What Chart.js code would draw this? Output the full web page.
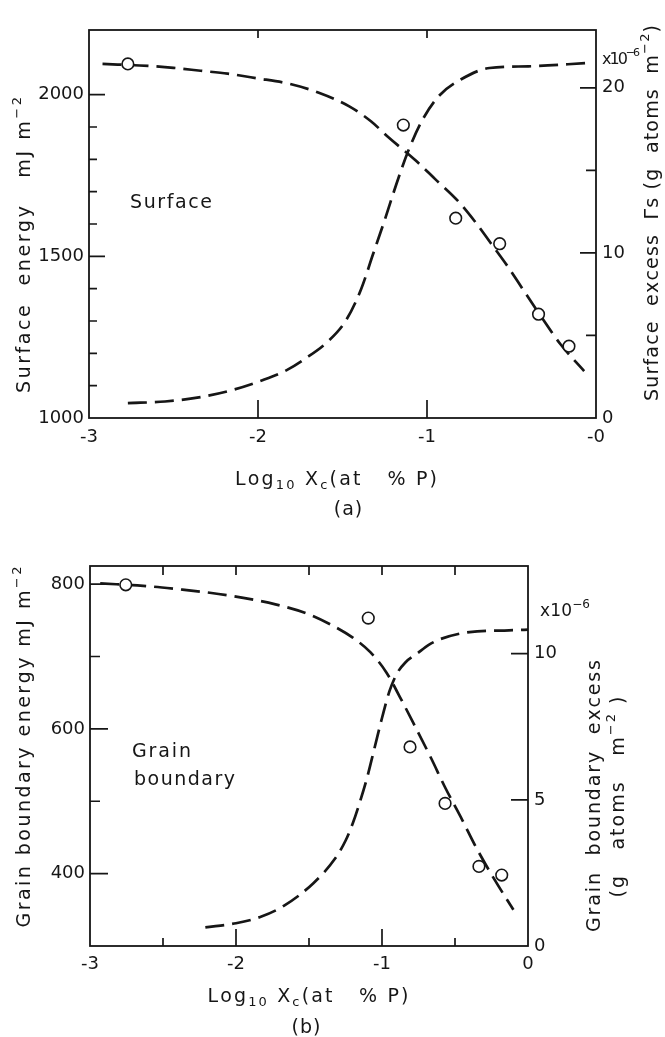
<!DOCTYPE html>
<html>
<head>
<meta charset="utf-8">
<script src="https://cdn.jsdelivr.net/npm/chart.js@4.4.1/dist/chart.umd.min.js"></script>
<style>
  html, body { margin: 0; padding: 0; background: #ffffff; }
  #wrap { position: relative; width: 665px; height: 1037px; overflow: hidden; background: #fff; }
  canvas { position: absolute; left: 0; }
  #ca { top: 0; }
  #cb { top: 520px; }
</style>
</head>
<body>
<div id="wrap">
  <canvas id="ca" width="665" height="520"></canvas>
  <canvas id="cb" width="665" height="517"></canvas>
</div>
<script>
// ---------------- DATA : panel (a) Surface ----------------
const xTicksA = [-3, -2, -1, 0];
const xTickLabelsA = ['-3', '-2', '-1', '-0'];
const energyTicksA = [1000, 1500, 2000];
const excessTicksA = [0, 10, 20];

const surfEnergyCurveX = [-2.92, -2.65, -2.50, -2.34, -2.18, -2.01, -1.81, -1.64, -1.46, -1.33, -1.23, -1.07, -0.95, -0.82, -0.72, -0.62, -0.52, -0.43, -0.32, -0.21, -0.07];
const surfEnergyCurveY = [2095, 2089, 2083, 2074, 2065, 2051, 2033, 2006, 1964, 1917, 1869, 1798, 1738, 1673, 1610, 1539, 1467, 1396, 1310, 1228, 1145];

const surfEnergyPointsX = [-2.77, -1.14, -0.83, -0.57, -0.34, -0.16];
const surfEnergyPointsY = [2095, 1906, 1618, 1539, 1321, 1222];

const surfExcessCurveX = [-2.77, -2.55, -2.35, -2.15, -1.97, -1.83, -1.72, -1.59, -1.48, -1.39, -1.32, -1.25, -1.18, -1.11, -1.03, -0.93, -0.80, -0.63, -0.40, -0.05];
const surfExcessCurveY = [0.9, 1.0, 1.25, 1.7, 2.3, 2.9, 3.6, 4.6, 5.9, 7.8, 9.9, 12.0, 14.2, 16.2, 18.0, 19.5, 20.5, 21.2, 21.3, 21.5];

// ---------------- DATA : panel (b) Grain boundary ----------------
const xTicksB = [-3, -2, -1, 0];
const xTickLabelsB = ['-3', '-2', '-1', '0'];
const energyTicksB = [400, 600, 800];
const excessTicksB = [0, 5, 10];

const gbEnergyCurveX = [-2.93, -2.60, -2.40, -2.18, -1.95, -1.73, -1.51, -1.35, -1.20, -1.08, -0.97, -0.88, -0.77, -0.66, -0.57, -0.45, -0.36, -0.23, -0.10];
const gbEnergyCurveY = [801, 797, 793, 788, 781, 772, 759, 744, 726, 706, 678, 645, 602, 558, 520, 474, 438, 392, 350];

const gbEnergyPointsX = [-2.755, -1.094, -0.808, -0.568, -0.336, -0.18];
const gbEnergyPointsY = [799, 753, 575, 497, 410, 398];

const gbExcessCurveX = [-2.21, -2.00, -1.83, -1.67, -1.47, -1.32, -1.25, -1.20, -1.15, -1.10, -1.05, -1.00, -0.95, -0.90, -0.84, -0.76, -0.68, -0.60, -0.40, -0.13, 0];
const gbExcessCurveY = [0.64, 0.78, 1.0, 1.38, 2.15, 3.0, 3.6, 4.2, 4.95, 5.8, 6.8, 7.8, 8.7, 9.3, 9.7, 10.0, 10.3, 10.5, 10.74, 10.8, 10.82];

// ---------------- STYLE ----------------
const FAM = '"DejaVu Sans", "Liberation Sans", sans-serif';
const INK = '#161616';
const TICK_FONT = { family: FAM, size: 18 };

function zip(xs, ys) { return xs.map((x, i) => ({ x: x, y: ys[i] })); }

// rich text: segments with optional sub / sup, letter spacing fitted to a target length
function drawRich(ctx, segs, o) {
  const size = o.size || 19;
  const small = Math.round(size * 0.68);
  const fontFor = s => ((s.sub || s.sup) ? small : size) + 'px ' + FAM;
  let natural = 0, n = 0;
  for (const s of segs) {
    ctx.font = fontFor(s);
    for (const ch of s.t) { natural += ctx.measureText(ch).width; n++; }
  }
  let sp = o.spacing || 0;
  if (o.target) sp = (o.target - natural) / Math.max(1, n - 1);
  const total = natural + sp * (n - 1);
  ctx.save();
  ctx.translate(o.x, o.y);
  ctx.rotate(o.rot || 0);
  ctx.fillStyle = INK;
  ctx.textBaseline = 'middle';
  ctx.textAlign = 'left';
  let cx = (o.align === 'left') ? 0 : -total / 2;
  for (const s of segs) {
    ctx.font = fontFor(s);
    const dy = s.sub ? size * 0.32 : (s.sup ? -size * 0.4 : 0);
    for (const ch of s.t) {
      ctx.fillText(ch, cx, dy);
      cx += ctx.measureText(ch).width + sp;
    }
  }
  ctx.restore();
}

function framePlugin(spec) {
  return {
    id: 'frame_' + spec.name,
    afterDraw(chart) {
      const ctx = chart.ctx, a = chart.chartArea, sc = chart.scales;
      ctx.save();
      ctx.strokeStyle = INK;
      ctx.lineWidth = 1.7;
      ctx.beginPath();
      for (const [vals, len] of spec.leftMarks) for (const v of vals) {
        const y = sc.y.getPixelForValue(v); ctx.moveTo(a.left, y); ctx.lineTo(a.left + len, y);
      }
      for (const [vals, len] of spec.rightMarks) for (const v of vals) {
        const y = sc.y2.getPixelForValue(v); ctx.moveTo(a.right, y); ctx.lineTo(a.right - len, y);
      }
      for (const [vals, len] of spec.bottomMarks) for (const v of vals) {
        const x = sc.x.getPixelForValue(v); ctx.moveTo(x, a.bottom); ctx.lineTo(x, a.bottom - len);
      }
      for (const [vals, len] of spec.topMarks) for (const v of vals) {
        const x = sc.x.getPixelForValue(v); ctx.moveTo(x, a.top); ctx.lineTo(x, a.top + len);
      }
      ctx.stroke();
      ctx.lineWidth = 1.8;
      ctx.strokeRect(a.left, a.top, a.right - a.left, a.bottom - a.top);
      ctx.restore();
      for (const t of spec.texts) drawRich(ctx, t.segs, t);
    }
  };
}

function lineDs(label, xs, ys, axis) {
  return {
    label: label, data: zip(xs, ys), yAxisID: axis, showLine: true,
    borderColor: INK, borderWidth: 2.7, borderDash: [19, 8], borderCapStyle: 'butt',
    pointRadius: 0, pointHoverRadius: 0, cubicInterpolationMode: 'monotone', fill: false, order: 2
  };
}
function pointDs(label, xs, ys, axis) {
  return {
    label: label, data: zip(xs, ys), yAxisID: axis, showLine: false,
    pointRadius: 5.8, pointHoverRadius: 5.8, pointBackgroundColor: '#ffffff',
    pointBorderColor: INK, pointBorderWidth: 1.6, order: 0
  };
}

function makeChart(canvas, cfg) {
  const tickOpts = (labels, pad) => ({
    font: TICK_FONT, color: INK, padding: pad, autoSkip: false, maxRotation: 0,
    callback: (v, i) => labels[i]
  });
  return new Chart(canvas, {
    type: 'scatter',
    data: { datasets: cfg.datasets },
    options: {
      responsive: false, animation: false, devicePixelRatio: 1,
      layout: { padding: { top: cfg.top, left: 0, right: 0, bottom: 0 } },
      plugins: { legend: { display: false }, tooltip: { enabled: false } },
      scales: {
        x: {
          type: 'linear', position: 'bottom', min: -3, max: 0,
          afterBuildTicks: s => { s.ticks = cfg.xTicks.map(v => ({ value: v })); },
          afterFit: s => { s.height = cfg.xHeight; },
          ticks: tickOpts(cfg.xLabels, cfg.xPad),
          grid: { display: false, drawTicks: false, drawOnChartArea: false },
          border: { display: false }
        },
        y: {
          type: 'linear', position: 'left', min: cfg.yMin, max: cfg.yMax,
          afterBuildTicks: s => { s.ticks = cfg.yTicks.map(v => ({ value: v })); },
          afterFit: s => { s.width = cfg.yWidth; },
          ticks: tickOpts(cfg.yTicks.map(String), 5),
          grid: { display: false, drawTicks: false, drawOnChartArea: false },
          border: { display: false }
        },
        y2: {
          type: 'linear', position: 'right', min: cfg.y2Min, max: cfg.y2Max,
          afterBuildTicks: s => { s.ticks = cfg.y2Ticks.map(v => ({ value: v })); },
          afterFit: s => { s.width = cfg.y2Width; },
          ticks: tickOpts(cfg.y2Ticks.map(String), 6),
          grid: { display: false, drawTicks: false, drawOnChartArea: false },
          border: { display: false }
        }
      }
    },
    plugins: [framePlugin(cfg.spec)]
  });
}

// ---------------- PANEL (a) ----------------
makeChart(document.getElementById('ca'), {
  top: 30, xHeight: 102, yWidth: 89, y2Width: 69, xPad: 9,
  xTicks: xTicksA, xLabels: xTickLabelsA,
  yMin: 1000, yMax: 2200, yTicks: energyTicksA,
  y2Min: 0, y2Max: 23.5, y2Ticks: excessTicksA,
  datasets: [
    lineDs('Surface energy (calc.)', surfEnergyCurveX, surfEnergyCurveY, 'y'),
    lineDs('Surface excess (calc.)', surfExcessCurveX, surfExcessCurveY, 'y2'),
    pointDs('Surface energy (exp.)', surfEnergyPointsX, surfEnergyPointsY, 'y')
  ],
  spec: {
    name: 'a',
    leftMarks: [[[1500, 2000], 16], [[1100, 1200, 1300, 1400, 1600, 1700, 1800, 1900], 8]],
    rightMarks: [[[10, 20], 16], [[5, 15], 10]],
    bottomMarks: [[[-2, -1], 18]],
    topMarks: [[[-2, -1], 8]],
    texts: [
      { segs: [{ t: 'Surface  energy   mJ m' }, { t: '\u22122', sup: true }], x: 25, y: 245, rot: -Math.PI / 2, size: 19, target: 296 },
      { segs: [{ t: 'Surface  excess  \u0393s (g  atoms  m' }, { t: '\u22122', sup: true }, { t: ')' }], x: 653, y: 213, rot: -Math.PI / 2, size: 19, target: 376 },
      { segs: [{ t: 'x10' }, { t: '\u22126', sup: true }], x: 602, y: 60, align: 'left', size: 16, target: 38 },
      { segs: [{ t: 'Surface' }], x: 130, y: 203, align: 'left', size: 19, target: 82 },
      { segs: [{ t: 'Log' }, { t: '10', sub: true }, { t: ' X' }, { t: 'c', sub: true }, { t: '(at   % P)' }], x: 336, y: 480, size: 19, target: 202 },
      { segs: [{ t: '(a)' }], x: 348, y: 510, size: 19, spacing: 1 }
    ]
  }
});

// ---------------- PANEL (b) ----------------
makeChart(document.getElementById('cb'), {
  top: 46, xHeight: 91, yWidth: 90, y2Width: 137, xPad: 8,
  xTicks: xTicksB, xLabels: xTickLabelsB,
  yMin: 300, yMax: 825, yTicks: energyTicksB,
  y2Min: 0, y2Max: 13, y2Ticks: excessTicksB,
  datasets: [
    lineDs('Grain boundary energy (calc.)', gbEnergyCurveX, gbEnergyCurveY, 'y'),
    lineDs('Grain boundary excess (calc.)', gbExcessCurveX, gbExcessCurveY, 'y2'),
    pointDs('Grain boundary energy (exp.)', gbEnergyPointsX, gbEnergyPointsY, 'y')
  ],
  spec: {
    name: 'b',
    leftMarks: [[[400, 600, 800], 18], [[500, 700], 10]],
    rightMarks: [[[5, 10], 17]],
    bottomMarks: [[[-2, -1], 17], [[-2.5, -1.5, -0.5], 8]],
    topMarks: [[[-2.5, -2, -1.5, -1, -0.5], 9]],
    texts: [
      { segs: [{ t: 'Grain boundary energy mJ m' }, { t: '\u22122', sup: true }], x: 25, y: 227, rot: -Math.PI / 2, size: 19, target: 361 },
      { segs: [{ t: 'Grain  boundary  excess' }], x: 595, y: 276, rot: -Math.PI / 2, size: 19, target: 272 },
      { segs: [{ t: '(g   atoms   m' }, { t: '\u22122', sup: true }, { t: ' )' }], x: 619, y: 277, rot: -Math.PI / 2, size: 19, target: 201 },
      { segs: [{ t: 'x10' }, { t: '\u22126', sup: true }], x: 540, y: 92, align: 'left', size: 17, target: 50 },
      { segs: [{ t: 'Grain' }], x: 132, y: 232, align: 'left', size: 19, target: 59 },
      { segs: [{ t: 'boundary' }], x: 134, y: 260, align: 'left', size: 19, target: 101 },
      { segs: [{ t: 'Log' }, { t: '10', sub: true }, { t: ' X' }, { t: 'c', sub: true }, { t: '(at   % P)' }], x: 308, y: 477, size: 19, target: 201 },
      { segs: [{ t: '(b)' }], x: 306, y: 508, size: 19, spacing: 1 }
    ]
  }
});
</script>
</body>
</html>
